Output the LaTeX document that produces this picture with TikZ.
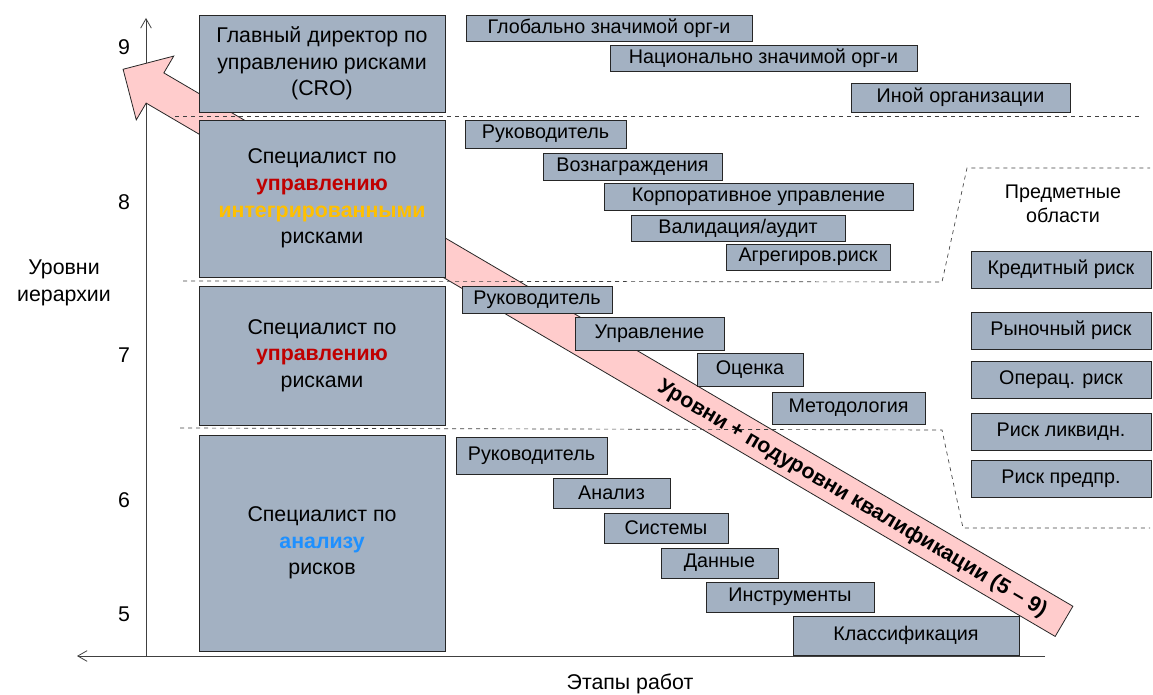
\documentclass[tikz,border=0pt]{standalone}
\usepackage{fontspec}
\setmainfont{Liberation Sans}
\usepackage{xcolor}
\usepackage{tikz}
\usetikzlibrary{positioning,arrows.meta}
\definecolor{boxgray}{HTML}{A3B1C2}
\definecolor{arrpink}{HTML}{FFCCCC}
\definecolor{txtred}{HTML}{C00000}
\definecolor{txtyellow}{HTML}{FFC000}
\definecolor{txtblue}{HTML}{1E90FF}

\begin{document}
\begin{tikzpicture}[x=0.75pt, y=-0.75pt,
  bigbox/.style={draw=black!85, fill=boxgray, line width=0.6pt, minimum width=246*0.75pt, minimum height=#1*0.75pt, inner sep=0pt, align=center, font=\fontsize{16}{20}\selectfont},
  smallbox/.style 2 args={draw=black!85, fill=boxgray, line width=0.6pt, minimum width=#1*0.75pt, minimum height=#2*0.75pt, inner sep=0pt, font=\fontsize{14.8}{17}\selectfont},
  riskbox/.style={smallbox={180}{37}},
  bigarrow/.style={draw=black!85, fill=arrpink, line width=0.6pt},
  arrtext/.style={font=\fontsize{16}{18}\selectfont\bfseries},
  axisline/.style={draw=black!75, line width=0.6pt, -{Straight Barb[length=7pt,width=8pt]}},
  divline/.style={draw=black!75, dashed, line width=0.5pt},
  lbl/.style={font=\fontsize{16}{20}\selectfont, align=center},
  numlbl/.style={font=\fontsize{16}{18}\selectfont},
]
\useasboundingbox (0,0) rectangle (1153,695);

% Axes
\coordinate (org) at (146,656);
\coordinate (ytop) at (146,18);
\coordinate (xstart) at (1045,656);
\coordinate (xleft) at (77,656);
\draw[axisline] (org) -- (ytop);
\draw[axisline] (xstart) -- (xleft);

% Big arrow of qualification levels
\begin{scope}[shift={(155,88)}, rotate=-30.4]
\draw[bigarrow] (-37,0) -- (0,-37) -- (0,-17.5) -- (1054,-17.5) -- (1054,17.5) -- (0,17.5) -- (0,37) -- cycle;
\end{scope}

% Dashed level separators
\coordinate (d1a) at (175,116);
\coordinate (d1b) at (1140,116);
\coordinate (d2a) at (183,281);
\coordinate (d2b) at (942,282);
\coordinate (d2c) at (967,168);
\coordinate (d2d) at (1150,168);
\coordinate (d3a) at (180,428);
\coordinate (d3b) at (942,430);
\coordinate (d3c) at (963,528);
\coordinate (d3d) at (1150,528);
\draw[divline] (d1a) -- (d1b);
\draw[divline] (d2a) -- (d2b) -- (d2c) -- (d2d);
\draw[divline] (d3a) -- (d3b) -- (d3c) -- (d3d);

% Position boxes
\node[bigbox=97]  (cro)   at (322,63.5)  {Главный директор по\\управлению рисками\\(CRO)};
\node[bigbox=157] (spec8) at (322,198.5) {Специалист по\\{\bfseries\color{txtred}управлению}\\{\bfseries\color{txtyellow}интегрированными}\\рисками};
\node[bigbox=139] (spec7) at (322,355.5) {Специалист по\\{\bfseries\color{txtred}управлению}\\рисками};
\node[bigbox=216] (spec6) at (322,543)   {Специалист по\\{\bfseries\color{txtblue}анализу}\\рисков};

% Level 9
\node[smallbox={286}{26}] (glob)  at (609,28)     {Глобально значимой орг-и};
\node[smallbox={307}{26}] (nat)   at (763.5,58)   {Национально значимой орг-и};
\node[smallbox={219}{29}] (other) at (960.5,97.5) {Иной организации};

% Level 8
\node[smallbox={161}{28}] (ruk8)  at (545.5,134)  {Руководитель};
\node[smallbox={179}{27}] (voz)   at (632.5,166.5) {Вознаграждения};
\node[smallbox={309}{27}] (korp)  at (758.5,196.5) {Корпоративное управление};
\node[smallbox={214}{26}] (valid) at (738,228)    {Валидация/аудит};
\node[smallbox={164}{26}] (agr)   at (808,257)    {Агрегиров.риск};

% Level 7
\node[smallbox={150}{27}] (ruk7)  at (537,299.5)  {Руководитель};
\node[smallbox={149}{33}] (upr)   at (649.5,333.5) {Управление};
\node[smallbox={106}{33}] (ots)   at (750,369.5)  {Оценка};
\node[smallbox={153}{32}] (met)   at (848.5,408)  {Методология};

% Levels 5-6
\node[smallbox={151}{37}] (ruk6)  at (531.5,455.5) {Руководитель};
\node[smallbox={117}{30}] (anal)  at (611.5,493)  {Анализ};
\node[smallbox={124}{30}] (sys)   at (666,528)    {Системы};
\node[smallbox={117}{30}] (dat)   at (719.5,563)  {Данные};
\node[smallbox={168}{30}] (instr) at (790,597)    {Инструменты};
\node[smallbox={226}{39}] (klass) at (906,635.5)  {Классификация};

% Subject areas
\node[lbl, font=\fontsize{14.8}{18}\selectfont] (subj) at (1063,204) {Предметные\\области};
\foreach \i/\yy/\txt in {1/269.5/Кредитный риск, 2/330.5/Рыночный риск, 3/379.5/Операц. риск, 4/431.5/Риск ликвидн., 5/478.5/Риск предпр.}
  \node[riskbox] (risk\i) at (1061,\yy) {\txt};

% Arrow label
\node[arrtext, rotate=-30.4] (lvltext) at (852,499) {Уровни + подуровни квалификации (5 – 9)};

% Axis labels
\foreach \n/\yy in {9/47, 8/202, 7/355, 6/500, 5/614}
  \node[numlbl] (num\n) at (124,\yy) {\n};
\node[lbl] (ylbl) at (64,283) {Уровни\\иерархии};
\node[lbl] (xlbl) at (630,684) {Этапы работ};
\end{tikzpicture}
\end{document}
